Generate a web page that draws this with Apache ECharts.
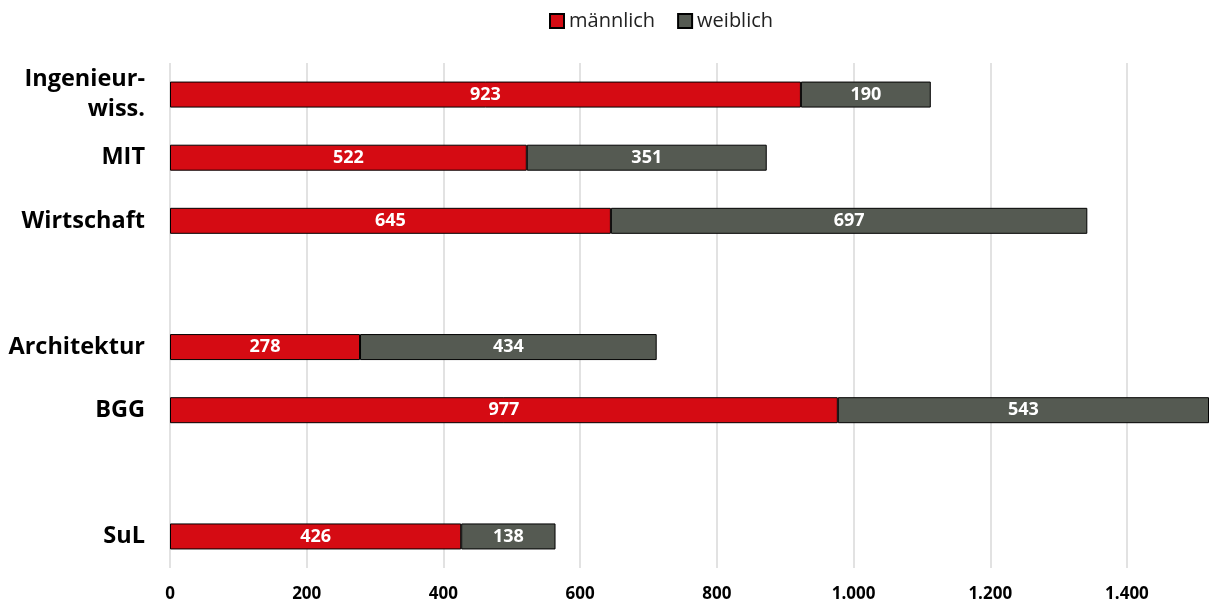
<!DOCTYPE html>
<html><head><meta charset="utf-8">
<script src="https://cdn.jsdelivr.net/npm/echarts@6/dist/echarts.min.js"></script>
<style>html,body{margin:0;padding:0;background:#fff}#c{width:1214px;height:608px}</style>
</head><body><div id="c"></div>
<script>
const categories = ['Ingenieur-\nwiss.', 'MIT', 'Wirtschaft', '', 'Architektur', 'BGG', '', 'SuL'];
const maennlich = [923, 522, 645, null, 278, 977, null, 426];
const weiblich = [190, 351, 697, null, 434, 543, null, 138];
const tickValues = [0, 200, 400, 600, 800, 1000, 1200, 1400];
const seriesNames = ['männlich', 'weiblich'];

const font = '"Open Sans", "Noto Sans", sans-serif';
const fmt = v => String(v).replace(/\B(?=(\d{3})+(?!\d))/g, '.');
const chart = echarts.init(document.getElementById('c'));
const mk = (name, data, color) => ({
  name, type: 'bar', stack: 'a', data: data.map(v => v == null ? '-' : v),
  barWidth: 26,
  itemStyle: { color, borderColor: '#000', borderWidth: 1 },
  label: { show: true, position: 'inside', color: '#fff', fontFamily: font, fontWeight: 'bold', fontSize: 18 }
});
chart.setOption({
  animation: false,
  textStyle: { fontFamily: font },
  legend: {
    top: 6, left: 544, itemWidth: 14, itemHeight: 14, itemGap: 22, icon: 'rect',
    textStyle: { fontFamily: font, fontSize: 20, color: '#222' },
    data: seriesNames
  },
  grid: { left: 170, right: 5, top: 63, bottom: 40, containLabel: false },
  xAxis: {
    type: 'value', min: 0, max: 1520, interval: 200,
    axisLine: { show: false },
    axisTick: { show: false, customValues: tickValues },
    splitLine: { show: true, lineStyle: { color: '#d9d9d9', width: 1.5 } },
    axisLabel: { customValues: tickValues, formatter: v => fmt(v), fontFamily: font, fontWeight: 'bold', fontSize: 17, color: '#000', margin: 18 }
  },
  yAxis: {
    type: 'category', inverse: true, data: categories,
    axisLine: { show: false }, axisTick: { show: false },
    axisLabel: { fontFamily: font, fontWeight: 'bold', fontSize: 23.5, color: '#000', margin: 25, align: 'right', lineHeight: 30 }
  },
  series: [mk(seriesNames[0], maennlich, '#d50b13'), mk(seriesNames[1], weiblich, '#555a52')]
});
</script></body></html>
